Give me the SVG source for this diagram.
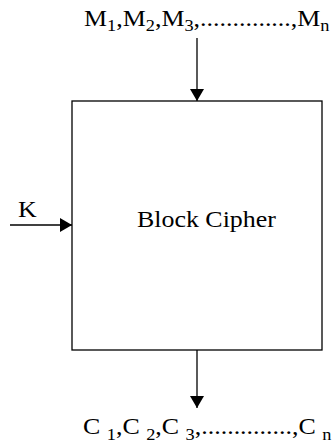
<svg xmlns="http://www.w3.org/2000/svg" width="336" height="445" viewBox="0 0 336 445">
<style>
text{fill:#000;font-size:24px}
.sub{font-size:17px}
.ln{stroke:#000;stroke-width:1.3;fill:none}
</style>
<defs>
<marker id="ah" markerWidth="12" markerHeight="14" refX="12" refY="7" orient="auto" markerUnits="userSpaceOnUse">
<path d="M0,0 L12,7 L0,14 Z" fill="#000"/>
</marker>
</defs>
<rect width="336" height="445" fill="#fff"/>
<g font-family="'Liberation Serif', 'Times New Roman', serif">
<g id="input"><text transform="translate(84,26) scale(1.08,1)">M<tspan class="sub" dy="5">1</tspan><tspan dy="-5">,M</tspan><tspan class="sub" dy="5">2</tspan><tspan dy="-5">,M</tspan><tspan class="sub" dy="5">3</tspan><tspan dy="-5">,..............,M</tspan><tspan class="sub" dy="5">n</tspan></text></g>
<g id="key"><text transform="translate(18,217) scale(1.08,1)">K</text></g>
<g id="cipher"><rect x="72" y="101" width="250" height="249" fill="#fff" stroke="#000" stroke-width="1.3"/><text transform="translate(137,227) scale(1.08,1)">Block Cipher</text></g>
<g id="output"><text transform="translate(83,434) scale(1.08,1)">C <tspan class="sub" dy="6">1</tspan><tspan dy="-6">,C </tspan><tspan class="sub" dy="6">2</tspan><tspan dy="-6">,C </tspan><tspan class="sub" dy="6">3</tspan><tspan dy="-6">,..............,C </tspan><tspan class="sub" dy="6">n</tspan></text></g>
</g>
<g id="connectors">
<line class="ln" x1="197" y1="38" x2="197" y2="101" marker-end="url(#ah)"/>
<line class="ln" x1="10" y1="225" x2="72" y2="225" marker-end="url(#ah)"/>
<line class="ln" x1="197" y1="350" x2="197" y2="408" marker-end="url(#ah)"/>
</g>
</svg>
